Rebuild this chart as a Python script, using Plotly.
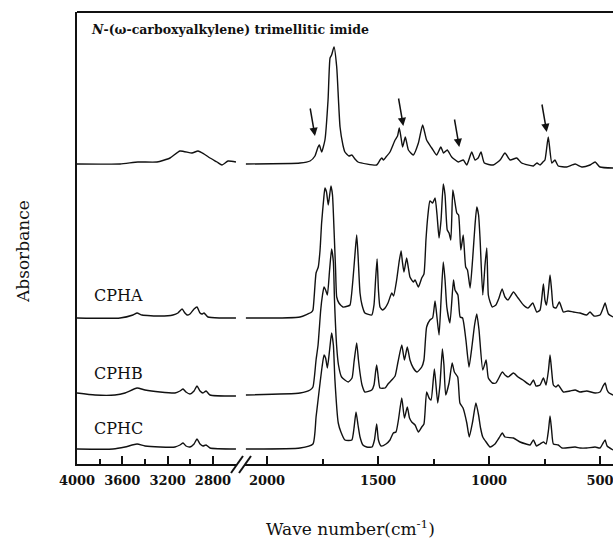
import plotly.graph_objects as go

# ---------------- data (wavenumber in cm-1, absorbance in arbitrary units above each baseline) -------------
imide_wn = [4000, 3620, 3462, 3294, 3179, 3091, 2985, 2932, 2879, 2826, 2764, 2720, 2667, 2597,
            2095, 1851, 1806, 1784, 1770, 1764, 1754, 1739, 1725, 1716, 1709, 1698, 1686, 1678, 1671, 1658,
            1649, 1631, 1618, 1604, 1590, 1506, 1491, 1483, 1475, 1464, 1446, 1423, 1412, 1404, 1396, 1389,
            1377, 1363, 1341, 1318, 1299, 1281, 1258, 1236, 1217, 1205, 1188, 1168, 1138, 1116, 1100, 1078,
            1063, 1049, 1036, 1021, 981, 950, 928, 905, 875, 853, 800, 784, 770, 757, 748, 733, 717, 703,
            688, 650, 612, 582, 545, 522, 500, 441]
imide_abs = [0, 0, 2, 2, 6, 13, 11, 13, 10, 6, 2, -1, 3, 2,
             0, 1, 3, 8, 17, 19, 12, 24, 64, 106, 109, 117, 97, 64, 37, 19,
             12, 8, 9, 5, 2, -1, 4, 6, 4, 7, 12, 24, 28, 36, 26, 17,
             27, 14, 9, 21, 39, 24, 16, 9, 17, 11, 14, 7, 2, 4, -1, 12,
             4, 6, 12, 1, -1, 4, 11, 4, 6, 1, -2, 1, -1, 2, 4, 27, 1, 4,
             -2, -3, 0, -3, -1, 2, -3, -4]

cpha_wn = [4000, 3620, 3506, 3470, 3426, 3267, 3153, 3109, 3073, 3047, 3029, 3003, 2967, 2941, 2914, 2897,
           2879, 2844, 2738, 2597,
           2095, 1851, 1799, 1793, 1779, 1769, 1761, 1754, 1745, 1739, 1732, 1724, 1712, 1705, 1698, 1691,
           1686, 1676, 1658, 1635, 1626, 1613, 1604, 1596, 1590, 1581, 1572, 1559, 1528, 1518, 1511, 1504,
           1498, 1491, 1480, 1468, 1455, 1438, 1430, 1416, 1405, 1396, 1390, 1383, 1371, 1363, 1356, 1341,
           1333, 1318, 1303, 1293, 1284, 1276, 1266, 1254, 1243, 1234, 1225, 1216, 1206, 1198, 1188, 1180,
           1172, 1163, 1155, 1145, 1137, 1127, 1116, 1105, 1097, 1085, 1074, 1063, 1055, 1047, 1040, 1028,
           1018, 1010, 1003, 995, 985, 969, 955, 941, 928, 914, 890, 869, 845, 824, 803, 785, 770, 755, 748,
           741, 732, 725, 718, 710, 698, 683, 665, 644, 620, 590, 560, 545, 527, 500, 486, 477, 468, 462, 441]
cpha_abs = [0, 0, 3, 5, 3, 2, 3, 5, 9, 5, 3, 4, 9, 11, 5, 4,
            5, 1, 0, 0,
            0, 1, 6, 8, 45, 51, 68, 95, 118, 130, 126, 113, 132, 123, 88, 48,
            21, 15, 11, 12, 13, 38, 63, 83, 63, 25, 13, 5, 3, 13, 38, 59,
            28, 11, 8, 10, 15, 25, 22, 38, 56, 67, 56, 46, 60, 50, 41, 36,
            38, 31, 40, 44, 78, 101, 117, 115, 120, 103, 80, 98, 134, 123, 88, 85,
            78, 128, 118, 105, 103, 68, 83, 51, 48, 30, 58, 93, 111, 103, 78, 23,
            53, 70, 23, 16, 11, 13, 20, 29, 21, 18, 26, 20, 13, 10, 15, 6, 8, 34, 18,
            13, 28, 43, 28, 11, 10, 16, 6, 7, 6, 5, 3, 6, 2, 3, 10, 15, 8, 4, 1]

cphb_wn = [4000, 3841, 3665, 3576, 3470, 3400, 3267, 3135, 3091, 3064, 3038, 3003, 2967, 2941, 2914, 2888,
           2861, 2826, 2597,
           2095, 1851, 1806, 1793, 1779, 1770, 1758, 1750, 1743, 1736, 1728, 1718, 1709, 1701, 1696, 1686,
           1678, 1664, 1634, 1617, 1608, 1596, 1588, 1581, 1572, 1559, 1528, 1518, 1511, 1506, 1500, 1491,
           1468, 1455, 1438, 1423, 1410, 1393, 1381, 1368, 1356, 1341, 1324, 1303, 1293, 1281, 1266, 1254,
           1243, 1234, 1225, 1216, 1206, 1198, 1190, 1176, 1160, 1153, 1140, 1130, 1119, 1104, 1090, 1076,
           1065, 1055, 1045, 1028, 1013, 1003, 985, 969, 940, 928, 914, 890, 869, 847, 815, 800, 788, 770,
           755, 743, 732, 725, 718, 710, 698, 688, 665, 635, 612, 590, 560, 522, 500, 486, 477, 468, 459, 441]
cphb_abs = [1, -1, -1, 1, 6, 4, 2, 1, 3, 5, 2, 0, 3, 8, 3, 1,
            3, -1, -2,
            -1, 1, 4, 7, 34, 49, 84, 99, 107, 104, 99, 124, 145, 132, 94, 47,
            29, 17, 12, 16, 32, 51, 34, 21, 9, 2, 4, 9, 22, 29, 19, 6,
            6, 10, 14, 18, 32, 49, 34, 47, 34, 26, 22, 27, 34, 67, 74, 76,
            93, 76, 59, 94, 132, 114, 87, 71, 114, 104, 99, 77, 76, 54, 27, 49,
            69, 80, 64, 24, 34, 16, 11, 11, 22, 19, 17, 21, 17, 14, 9, 14, 8, 9,
            16, 9, 24, 39, 24, 9, 7, 9, 2, 3, 4, 2, 3, 1, 2, 8, 11, 4, 1, -1]

cphc_wn = [4000, 3682, 3576, 3470, 3400, 3267, 3135, 3091, 3064, 3038, 3003, 2967, 2941, 2914, 2888, 2861,
           2826, 2597,
           2095, 1851, 1793, 1779, 1770, 1761, 1752, 1743, 1736, 1728, 1718, 1709, 1701, 1694, 1679, 1667,
           1649, 1618, 1608, 1599, 1590, 1581, 1568, 1551, 1527, 1516, 1506, 1498, 1486, 1464, 1446, 1431,
           1419, 1408, 1393, 1381, 1368, 1358, 1348, 1333, 1318, 1303, 1293, 1281, 1270, 1261, 1246, 1231,
           1221, 1210, 1203, 1195, 1180, 1166, 1156, 1141, 1131, 1117, 1100, 1089, 1074, 1059, 1047, 1038,
           1028, 1013, 995, 973, 955, 940, 928, 890, 860, 833, 815, 800, 786, 770, 755, 743, 732, 725, 718,
           710, 688, 671, 612, 590, 560, 522, 500, 486, 477, 468, 441]
cphc_abs = [0, 0, 2, 5, 3, 2, 2, 4, 6, 3, 2, 5, 10, 5, 3, 4,
            1, 0,
            0, 1, 5, 32, 49, 66, 82, 94, 91, 81, 99, 116, 104, 69, 26, 17,
            9, 9, 21, 37, 24, 12, 4, 2, 2, 9, 25, 9, 3, 5, 9, 16,
            17, 29, 51, 31, 42, 31, 27, 24, 17, 22, 25, 57, 51, 49, 80, 46,
            64, 100, 84, 54, 66, 86, 77, 72, 46, 41, 26, 12, 27, 46, 34, 21,
            12, 7, 2, 5, 11, 16, 12, 11, 7, 5, 4, 9, 3, 5, 7, 5, 19, 33, 19,
            5, 4, 1, 2, 1, 1, 2, 1, 6, 9, 3, -1]

series_names = ["imide", "CPHA", "CPHB", "CPHC"]
series_offsets = [300, 146, 70, 15]
series_wn = [imide_wn, cpha_wn, cphb_wn, cphc_wn]
series_abs = [imide_abs, cpha_abs, cphb_abs, cphc_abs]

label_texts = ["CPHA", "CPHB", "CPHC"]
label_y = [169, 91, 36]

left_ticks = [4000, 3600, 3200, 2800]
left_minor = [3800, 3400, 3000]
right_ticks = [2000, 1500, 1000, 500]
right_minor = [1750, 1250, 750]

arrow_wn = [1784, 1386, 1134, 740]
arrow_y = [328, 338, 317, 332]

BREAK = 2300

# ---------------- figure ----------------
fig = go.Figure()
for name, off, wn, ab in zip(series_names, series_offsets, series_wn, series_abs):
    assert len(wn) == len(ab), name
    lx = [w for w in wn if w > BREAK]
    ly = [a + off for w, a in zip(wn, ab) if w > BREAK]
    rx = [w for w in wn if w <= BREAK]
    ry = [a + off for w, a in zip(wn, ab) if w <= BREAK]
    line = dict(color="#111111", width=1.4, shape="spline", smoothing=0.5)
    fig.add_trace(go.Scatter(x=lx, y=ly, mode="lines", line=line, xaxis="x", yaxis="y",
                             showlegend=False, hoverinfo="skip"))
    fig.add_trace(go.Scatter(x=rx, y=ry, mode="lines", line=line, xaxis="x2", yaxis="y",
                             showlegend=False, hoverinfo="skip"))

W, H = 613, 538
L, R, T, B = 77, 0, 12, 74
PW = W - L - R
PH = H - T - B


def px(xp):
    return (xp - L) / PW


def py(yp):
    return (H - B - yp) / PH


tickfont = dict(family="DejaVu Serif", size=13, color="#111111", weight="bold")
axcommon = dict(showgrid=False, zeroline=False, showline=True, linecolor="#111111", linewidth=2,
                ticks="inside", ticklen=8, tickwidth=1.5, tickcolor="#111111", tickfont=tickfont,
                anchor="y", ticklabelstandoff=3, ticklabeloverflow="allow")

fig.update_layout(
    width=W, height=H,
    margin=dict(l=L, r=R, t=T, b=B, pad=0),
    paper_bgcolor="white", plot_bgcolor="white",
    showlegend=False,
    xaxis=dict(domain=[0, px(237)], range=[4000, 4000 - 160 / 0.1133],
               tickmode="array", tickvals=left_ticks, ticktext=[str(v) for v in left_ticks],
               minor=dict(tickvals=left_minor, ticks="inside", ticklen=5, tickwidth=1.5, tickcolor="#111111"),
               **axcommon),
    xaxis2=dict(domain=[px(245), 1], range=[2000 + 22 / 0.222, 500 - 13 / 0.222],
                tickmode="array", tickvals=right_ticks, ticktext=[str(v) for v in right_ticks],
                minor=dict(tickvals=right_minor, ticks="inside", ticklen=5, tickwidth=1.5, tickcolor="#111111"),
                **axcommon),
    yaxis=dict(range=[0, 452], showgrid=False, zeroline=False, showticklabels=False, ticks="",
               showline=True, linecolor="#111111", linewidth=2),
)

shapes = [
    dict(type="line", xref="paper", yref="paper", x0=0, x1=1, y0=1, y1=1,
         line=dict(color="#111111", width=2)),
    dict(type="line", xref="paper", yref="paper", x0=px(231), x1=px(243), y0=py(473), y1=py(456),
         line=dict(color="#111111", width=2)),
    dict(type="line", xref="paper", yref="paper", x0=px(239), x1=px(251), y0=py(473), y1=py(456),
         line=dict(color="#111111", width=2)),
]
fig.update_layout(shapes=shapes)

ann = []
ann.append(dict(xref="paper", yref="paper", x=px(89), y=py(29), xanchor="left", yanchor="middle",
                text="<b><i>N</i>-(ω-carboxyalkylene) trimellitic imide</b>", showarrow=False,
                font=dict(family="DejaVu Serif", size=12.5, color="#111111")))
for t, yv in zip(label_texts, label_y):
    ann.append(dict(xref="x", yref="y", x=4000 - 15 / 0.1133, y=yv, xanchor="left", yanchor="middle",
                    text=t, showarrow=False, font=dict(family="DejaVu Serif", size=16, color="#111111")))
for xw, yv in zip(arrow_wn, arrow_y):
    ann.append(dict(xref="x2", yref="y", x=xw, y=yv, ax=-5, ay=-29, text="", showarrow=True,
                    arrowhead=2, arrowsize=1.1, arrowwidth=1.5, arrowcolor="#111111"))
ann.append(dict(xref="paper", yref="paper", x=px(23), y=py(252), text="Absorbance", textangle=-90,
                showarrow=False, xanchor="center", yanchor="middle",
                font=dict(family="DejaVu Serif", size=17, color="#111111")))
ann.append(dict(xref="paper", yref="paper", x=px(350), y=py(528), text="Wave number(cm<sup>-1</sup>)",
                showarrow=False, xanchor="center", yanchor="middle",
                font=dict(family="DejaVu Serif", size=17, color="#111111")))
fig.update_layout(annotations=ann)

fig.write_html("out.html")
